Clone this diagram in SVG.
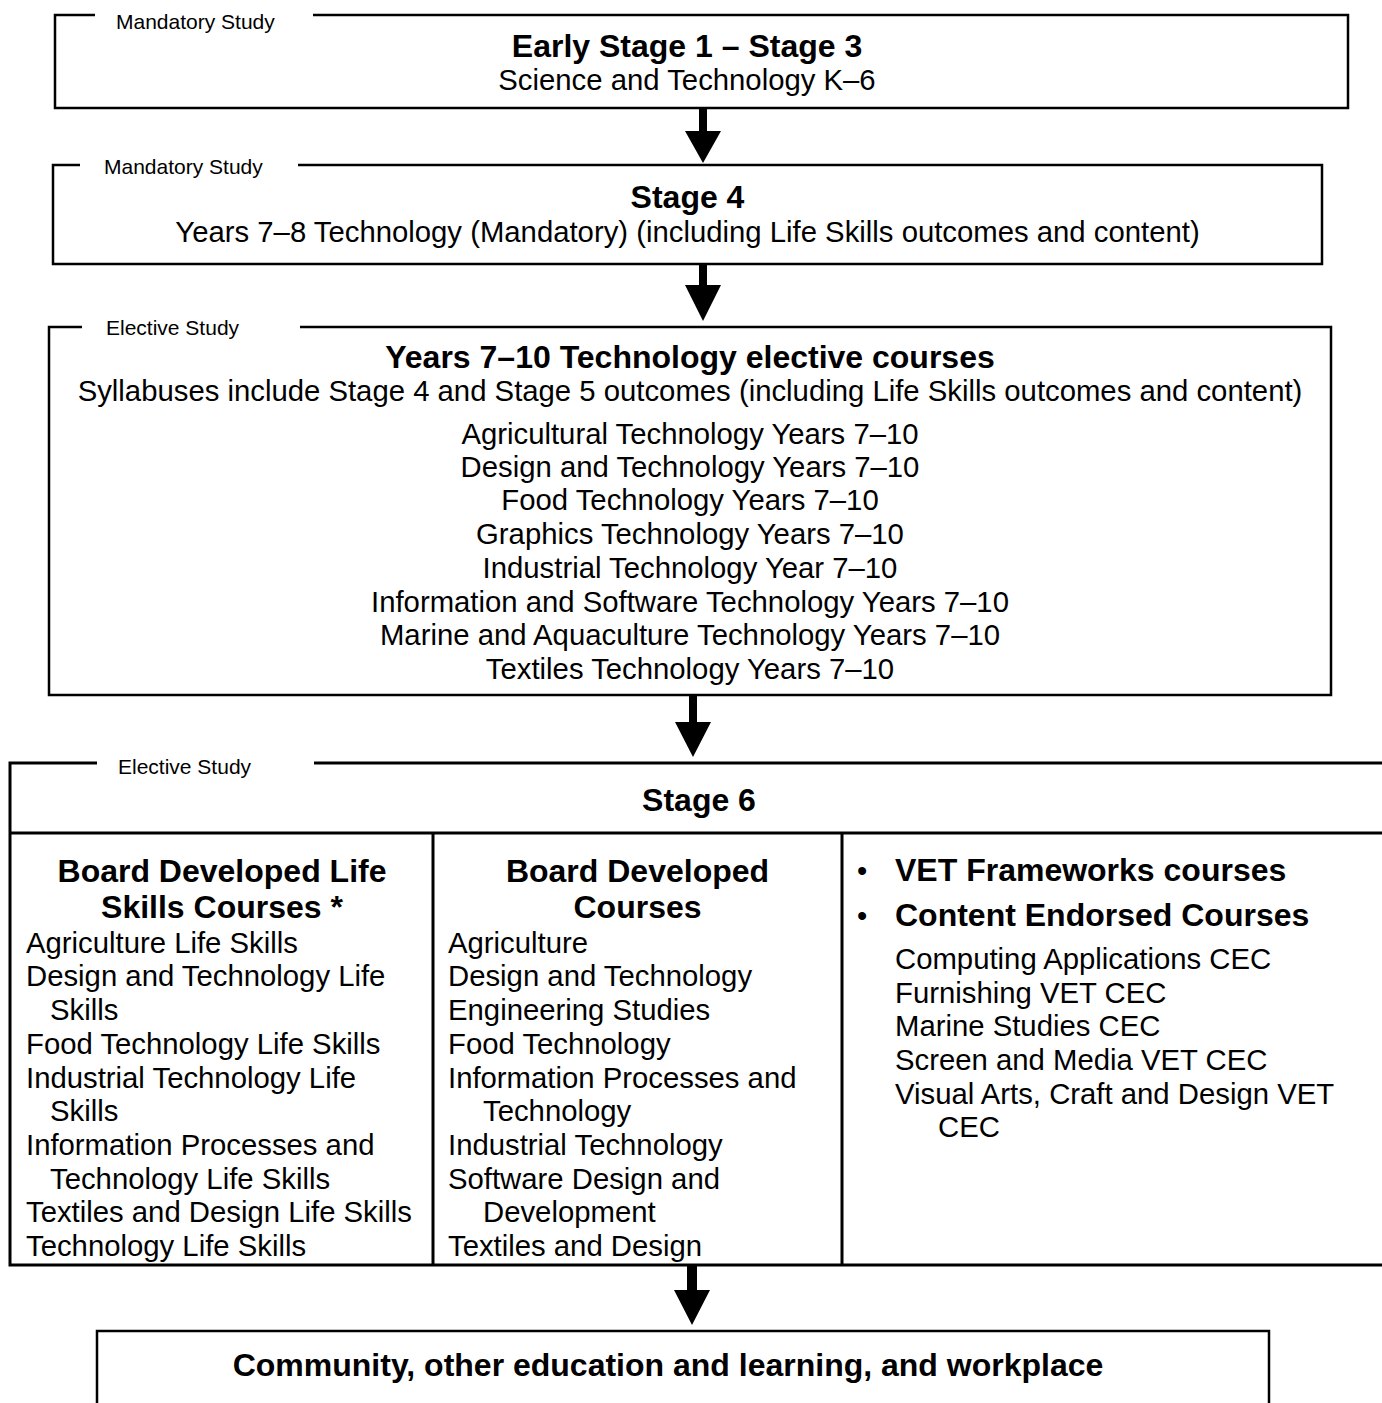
<svg xmlns="http://www.w3.org/2000/svg" width="1382" height="1403" viewBox="0 0 1382 1403">
<style>
text{font-family:"Liberation Sans",Arial,sans-serif;fill:#000}
.lbl{font-size:21px}
.t{font-size:32px;font-weight:bold}
.b{font-size:29.3px}
.c{text-anchor:middle}
.box{fill:none;stroke:#000;stroke-width:2.5}
.box6{fill:none;stroke:#000;stroke-width:3}
.arr{fill:#000;stroke:none}
</style>
<rect width="1382" height="1403" fill="#fff"/>
<g id="node-es1">
<path class="box" d="M95,15 H55 V108 H1348 V15 H313"/>
<text class="lbl" x="116" y="29">Mandatory Study</text>
<text class="t c" x="687" y="57">Early Stage 1 – Stage 3</text>
<text class="b c" x="687" y="90">Science and Technology K–6</text>
</g>
<g id="node-stage4">
<path class="box" d="M80,165 H53 V264 H1322 V165 H298"/>
<text class="lbl" x="104" y="174">Mandatory Study</text>
<text class="t c" x="687.5" y="208">Stage 4</text>
<text class="b c" x="687.5" y="242">Years 7–8 Technology (Mandatory) (including Life Skills outcomes and content)</text>
</g>
<g id="node-electives">
<path class="box" d="M82,327 H49 V695 H1331 V327 H300"/>
<text class="lbl" x="106" y="335">Elective Study</text>
<text class="t c" x="690" y="368">Years 7–10 Technology elective courses</text>
<text class="b c" x="690" y="401">Syllabuses include Stage 4 and Stage 5 outcomes (including Life Skills outcomes and content)</text>
<text class="b c" x="690" y="444">Agricultural Technology Years 7–10</text>
<text class="b c" x="690" y="477">Design and Technology Years 7–10</text>
<text class="b c" x="690" y="510">Food Technology Years 7–10</text>
<text class="b c" x="690" y="544">Graphics Technology Years 7–10</text>
<text class="b c" x="690" y="578">Industrial Technology Year 7–10</text>
<text class="b c" x="690" y="612">Information and Software Technology Years 7–10</text>
<text class="b c" x="690" y="645">Marine and Aquaculture Technology Years 7–10</text>
<text class="b c" x="690" y="679">Textiles Technology Years 7–10</text>
</g>
<g id="node-stage6">
<path class="box6" d="M97,763 H10 V1265 H1390"/>
<path class="box6" d="M314,763 H1390"/>
<path class="box6" d="M10,833 H1390"/>
<path class="box6" d="M433,833 V1265 M842,833 V1265"/>
<text class="lbl" x="118" y="774">Elective Study</text>
<text class="t c" x="699" y="811">Stage 6</text>
<g id="col-lifeskills">
<text class="t c" x="222" y="882">Board Developed Life</text>
<text class="t c" x="222" y="918">Skills Courses *</text>
<text class="b" x="26" y="953">Agriculture Life Skills</text>
<text class="b" x="26" y="986">Design and Technology Life</text>
<text class="b" x="50" y="1020">Skills</text>
<text class="b" x="26" y="1054">Food Technology Life Skills</text>
<text class="b" x="26" y="1088">Industrial Technology Life</text>
<text class="b" x="50" y="1121">Skills</text>
<text class="b" x="26" y="1155">Information Processes and</text>
<text class="b" x="50" y="1189">Technology Life Skills</text>
<text class="b" x="26" y="1222">Textiles and Design Life Skills</text>
<text class="b" x="26" y="1256">Technology Life Skills</text>
</g>
<g id="col-board">
<text class="t c" x="637.5" y="882">Board Developed</text>
<text class="t c" x="637.5" y="918">Courses</text>
<text class="b" x="448" y="953">Agriculture</text>
<text class="b" x="448" y="986">Design and Technology</text>
<text class="b" x="448" y="1020">Engineering Studies</text>
<text class="b" x="448" y="1054">Food Technology</text>
<text class="b" x="448" y="1088">Information Processes and</text>
<text class="b" x="483" y="1121">Technology</text>
<text class="b" x="448" y="1155">Industrial Technology</text>
<text class="b" x="448" y="1189">Software Design and</text>
<text class="b" x="483" y="1222">Development</text>
<text class="b" x="448" y="1256">Textiles and Design</text>
</g>
<g id="col-vet">
<text class="b" x="857" y="881">•</text>
<text class="t" x="895" y="881">VET Frameworks courses</text>
<text class="b" x="857" y="926">•</text>
<text class="t" x="895" y="926">Content Endorsed Courses</text>
<text class="b" x="895" y="969">Computing Applications CEC</text>
<text class="b" x="895" y="1003">Furnishing VET CEC</text>
<text class="b" x="895" y="1036">Marine Studies CEC</text>
<text class="b" x="895" y="1070">Screen and Media VET CEC</text>
<text class="b" x="895" y="1104">Visual Arts, Craft and Design VET</text>
<text class="b" x="938" y="1137">CEC</text>
</g>
</g>
<g id="node-community">
<path class="box" d="M97,1410 V1331 H1269 V1410"/>
<text class="t c" x="668" y="1376">Community, other education and learning, and workplace</text>
</g>
<g id="connectors">
<polygon class="arr" points="699,108 707,108 707,131 721,131 703,163 685,131 699,131"/>
<polygon class="arr" points="699,264 707,264 707,285 721,285 703,321 685,285 699,285"/>
<polygon class="arr" points="689,695 697,695 697,722 711,722 693,757 675,722 689,722"/>
<polygon class="arr" points="687,1265 697,1265 697,1290 710,1290 692,1325 674,1290 687,1290"/>
</g>
</svg>
